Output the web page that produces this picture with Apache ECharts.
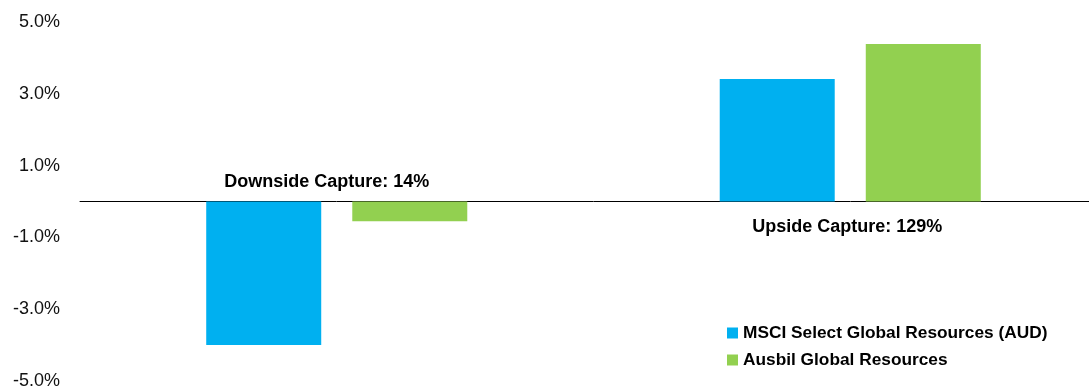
<!DOCTYPE html>
<html>
<head>
	<meta charset="utf-8">
	<title>Capture ratio</title>
	<style>
		* { margin: 0; padding: 0; }
		body { background: #fff; overflow: hidden; }
		/* plot area runs a bit past the right edge of the picture, as in the source */
		#chart { width: 1107px; height: 390px; }
	</style>
	<script src="https://cdn.jsdelivr.net/npm/echarts@6/dist/echarts.min.js"></script>
</head>
<body>
<div id="chart"></div>
<script>
	var categories = ['Downside', 'Upside'];
	var seriesNames = ['MSCI Select Global Resources (AUD)', 'Ausbil Global Resources'];
	var msciValues = [-4.0, 3.41];
	var ausbilValues = [-0.55, 4.39];
	var captureLabels = ['Downside Capture: 14%', 'Upside Capture: 129%'];
	var yTicks = [-5, -3, -1, 1, 3, 5];

	var FONT = '"Liberation Sans", Arial, sans-serif';
	var chart = echarts.init(document.getElementById('chart'));

	chart.setOption({
		animation: false,
		grid: { left: 80, right: 0, top: 22, bottom: 6 },
		legend: {
			orient: 'vertical',
			left: 722,
			top: 319,
			itemWidth: 11,
			itemHeight: 11,
			itemGap: 9,
			icon: 'rect',
			data: seriesNames,
			textStyle: { fontFamily: FONT, fontSize: 17.3, fontWeight: 'bold', color: '#000', lineHeight: 18 }
		},
		xAxis: {
			type: 'category',
			data: categories,
			axisLine: { lineStyle: { color: '#000', width: 1 } },
			axisTick: { show: false },
			axisLabel: { show: false }
		},
		yAxis: {
			type: 'value',
			min: yTicks[0],
			max: yTicks[yTicks.length - 1],
			interval: 2,
			axisLine: { show: false },
			axisTick: { show: false },
			splitLine: { show: false },
			axisLabel: {
				margin: 20,
				padding: [4, 0, 0, 0],
				fontFamily: FONT,
				fontSize: 18,
				color: '#111',
				formatter: function (v) { return v.toFixed(1) + '%'; }
			}
		},
		series: [
			{
				name: seriesNames[0],
				type: 'bar',
				data: msciValues,
				barWidth: 115,
				barGap: '27%',
				itemStyle: { color: '#00B0F0' }
			},
			{
				name: seriesNames[1],
				type: 'bar',
				data: ausbilValues,
				barWidth: 115,
				itemStyle: { color: '#92D050' }
			}
		]
	});

	// capture labels, placed relative to each category centre
	var p0 = chart.convertToPixel({ gridIndex: 0 }, [0, 0]);
	var p1 = chart.convertToPixel({ gridIndex: 0 }, [1, 0]);
	var labelStyle = { fontFamily: FONT, fontSize: 18, fontWeight: 'bold', fill: '#000', align: 'center', verticalAlign: 'middle' };
	chart.setOption({
		graphic: [
			{ type: 'text', x: p0[0] - 10, y: p0[1] - 19, style: Object.assign({ text: captureLabels[0] }, labelStyle) },
			{ type: 'text', x: p1[0] - 3, y: p1[1] + 26, style: Object.assign({ text: captureLabels[1] }, labelStyle) }
		]
	});
</script>
</body>
</html>
